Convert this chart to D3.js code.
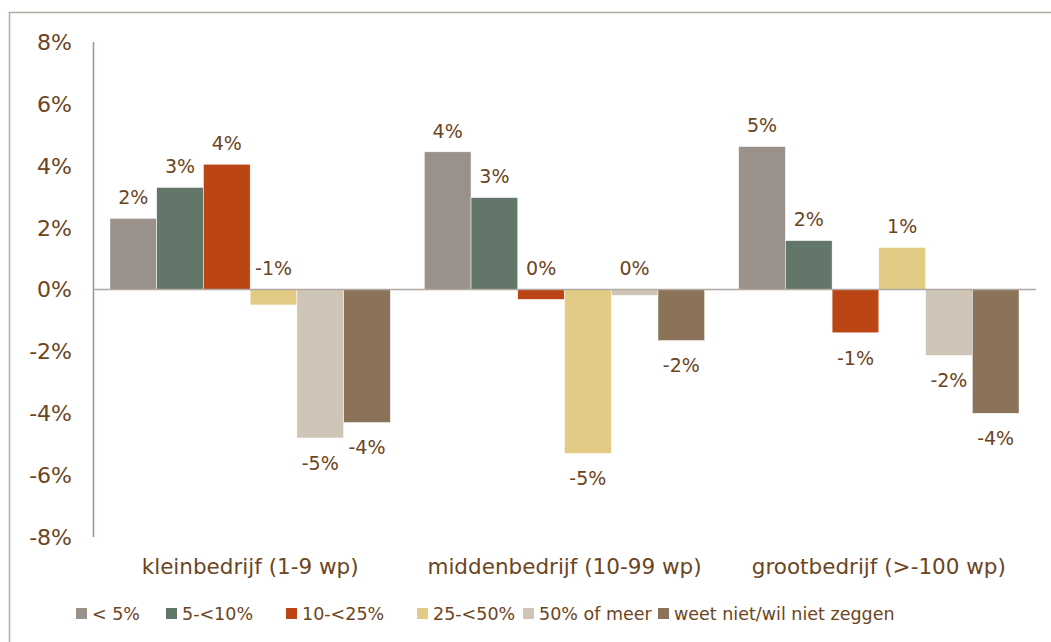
<!DOCTYPE html>
<html>
<head>
<meta charset="utf-8">
<script src="https://cdn.jsdelivr.net/npm/d3@7"></script>
<style>
  body { margin: 0; background: #fff; }
  text { font-family: "DejaVu Sans", Verdana, sans-serif; fill: #6b4522; }
</style>
</head>
<body>
<div id="viz"></div>
<script>
// categories (company size) and answer series
const categories = ["kleinbedrijf (1-9 wp)", "middenbedrijf (10-99 wp)", "grootbedrijf (>-100 wp)"];
const seriesNames = ["< 5%", "5-<10%", "10-<25%", "25-<50%", "50% of meer", "weet niet/wil niet zeggen"];
const seriesColors = ["#9a918a", "#62766a", "#bb4514", "#e3cb85", "#cfc5b6", "#8b735a"];

// values in percent, one array per category, order as seriesNames
const kleinValues = [2.3, 3.3, 4.05, -0.5, -4.8, -4.3];
const middenValues = [4.45, 2.97, -0.32, -5.3, -0.19, -1.65];
const grootValues = [4.62, 1.58, -1.4, 1.36, -2.13, -4.0];
const values = [kleinValues, middenValues, grootValues];

const yTicks = [-8, -6, -4, -2, 0, 2, 4, 6, 8];

const width = 1051;
const height = 642;

const svg = d3.select("#viz").append("svg")
    .attr("width", width)
    .attr("height", height);

// outer frame (only top and left visible)
svg.append("path")
    .attr("d", "M9.5,642 L9.5,12.5 L1051,12.5")
    .attr("fill", "none")
    .attr("stroke", "#b3aba1")
    .attr("stroke-width", 1.5);

const left = 93, right = 1036;
const y = d3.scaleLinear().domain([-8, 8]).range([537, 42]);
const x0 = d3.scaleBand().domain(categories).range([left, right]);
const pad = x0.bandwidth() * 0.054;
const x1 = d3.scaleBand().domain(seriesNames).range([pad, x0.bandwidth() - pad]);

// y tick labels
svg.selectAll(".ytick")
    .data(yTicks)
    .enter()
    .append("text")
    .attr("x", 72)
    .attr("y", d => y(d))
    .attr("dy", "0.36em")
    .attr("text-anchor", "end")
    .style("font-size", "22px")
    .text(d => d + "%");

// bars
const groups = svg.selectAll(".group")
    .data(categories)
    .enter()
    .append("g")
    .attr("transform", d => `translate(${x0(d)},0)`);

groups.selectAll("rect")
    .data((d, i) => values[i].map((v, j) => ({ v: v, s: seriesNames[j], c: seriesColors[j] })))
    .enter()
    .append("rect")
    .attr("x", d => x1(d.s))
    .attr("width", x1.bandwidth())
    .attr("y", d => y(Math.max(d.v, 0)))
    .attr("height", d => Math.abs(y(d.v) - y(0)))
    .attr("fill", d => d.c)
    .attr("stroke", "#fff")
    .attr("stroke-width", 0.5);

// value labels
function roundLabel(v) {
    const r = Math.sign(v) * Math.round(Math.abs(v));
    return (r === 0 ? 0 : r) + "%";
}

groups.selectAll(".lbl")
    .data((d, i) => values[i].map((v, j) => ({ v: v, s: seriesNames[j] })))
    .enter()
    .append("text")
    .attr("x", d => x1(d.s) + x1.bandwidth() / 2)
    .attr("y", d => d.v > -1 ? y(Math.max(d.v, 0)) - 21 : y(d.v) + 25)
    .attr("dy", "0.36em")
    .attr("text-anchor", "middle")
    .style("font-size", "19px")
    .text(d => roundLabel(d.v));

// axis lines
svg.append("line")
    .attr("x1", left + 0.5).attr("x2", left + 0.5)
    .attr("y1", y(8)).attr("y2", y(-8))
    .attr("stroke", "#a39188")
    .attr("stroke-width", 1.5);

svg.append("line")
    .attr("x1", left).attr("x2", right)
    .attr("y1", y(0)).attr("y2", y(0))
    .attr("stroke", "#b0a8a1")
    .attr("stroke-width", 1.5);

// category labels
svg.selectAll(".cat")
    .data(categories)
    .enter()
    .append("text")
    .attr("x", d => x0(d) + x0.bandwidth() / 2)
    .attr("y", 566)
    .attr("dy", "0.36em")
    .attr("text-anchor", "middle")
    .style("font-size", "21.5px")
    .text(d => d);

// legend
const legend = svg.append("g").attr("transform", "translate(0,614)");
const legendX = [76, 166, 286, 417, 523, 658];
const items = legend.selectAll("g")
    .data(seriesNames)
    .enter()
    .append("g")
    .attr("transform", (d, i) => `translate(${legendX[i]},0)`);

items.append("rect")
    .attr("x", 0).attr("y", -6)
    .attr("width", 11).attr("height", 11)
    .attr("fill", (d, i) => seriesColors[i]);

items.append("text")
    .attr("x", 16)
    .attr("y", 0)
    .attr("dy", "0.36em")
    .style("font-size", "17.5px")
    .text(d => d);
</script>
</body>
</html>
